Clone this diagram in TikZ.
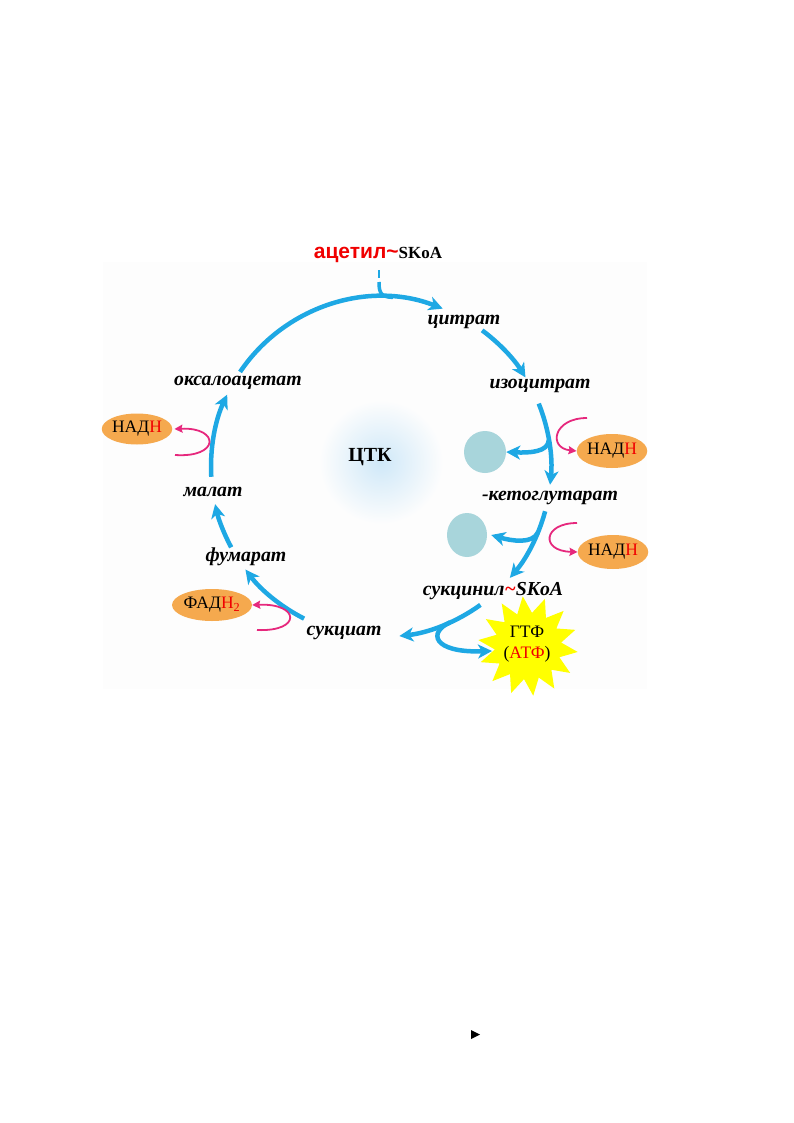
\documentclass[tikz,border=0pt]{standalone}
\usepackage{fontspec}
\setmainfont{Liberation Serif}
\newfontfamily\arsf{Liberation Sans}
\usetikzlibrary{arrows.meta,shapes.geometric,calc}
\definecolor{cycblue}{HTML}{1EA8E4}
\definecolor{pinkc}{HTML}{E6287D}
\definecolor{orangec}{HTML}{F5A94E}
\definecolor{tealc}{HTML}{A8D5DB}
\definecolor{yelc}{HTML}{FFFF00}
\definecolor{glowc}{HTML}{CFE8F8}
\definecolor{panelc}{HTML}{FDFDFD}
\definecolor{redc}{HTML}{F00000}
\begin{document}
\begin{tikzpicture}[x=1pt,y=1pt,
  cycarrow/.style={draw=cycblue, line width=4.5pt, -{Stealth[length=14pt,width=14pt,inset=4pt]}},
  stemline/.style={draw=cycblue, line width=3.5pt},
  pinkarrow/.style={draw=pinkc, line width=1.8pt, -{Stealth[length=8pt,width=8pt,inset=1pt]}},
  lab/.style={font=\fontsize{19.8}{22}\selectfont\bfseries\itshape, inner sep=0pt},
  cofactor/.style={ellipse, fill=orangec, inner sep=0pt, font=\fontsize{17.5}{20}\selectfont},
  acceptor/.style={ellipse, fill=tealc, inner sep=0pt}]
\useasboundingbox (0,0) rectangle (793,-1123);
\fill[panelc] (103,-262) rectangle (647,-689);
\shade[inner color=glowc, outer color=panelc] (381,-462) circle (62);

% centre of the cycle
\coordinate (O) at (381,-467);

% labels
\node[inner sep=0pt] (acetyl) at (378,-255) {{\arsf\bfseries\fontsize{21}{24}\selectfont\color{redc}ацетил\textasciitilde}{\bfseries\fontsize{17}{20}\selectfont SKoA}};
\node[lab] (citrate) at (464,-322) {цитрат};
\node[lab] (isocitrate) at (540,-386) {изоцитрат};
\node[lab] (akg) at (550,-498) {-кетоглутарат};
\node[lab] (succoa) at (493,-591) {сукцинил{\color{redc}\textasciitilde}SKoA};
\node[lab] (succinate) at (344,-633) {сукциат};
\node[lab] (fumarate) at (246,-557) {фумарат};
\node[lab] (malate) at (213,-492) {малат};
\node[lab] (oxalo) at (238,-383) {оксалоацетат};
\node[inner sep=0pt, font=\fontsize{20}{22}\selectfont\bfseries] (ctk) at (370,-457) {ЦТК};

% cofactors
\node[cofactor, minimum width=68pt, minimum height=31pt] (nadh0) at (137,-429) {НАД{\color{redc}Н}};
\node[cofactor, minimum width=70pt, minimum height=34pt] (nadh1) at (612,-451) {НАД{\color{redc}Н}};
\node[cofactor, minimum width=68pt, minimum height=34pt] (nadh2) at (613,-552) {НАД{\color{redc}Н}};
\node[cofactor, minimum width=74pt, minimum height=32pt] (fad) at (212,-605) {ФАД{\color{redc}Н\textsubscript{2}}};
\node[acceptor, minimum width=42pt, minimum height=42pt] (t1) at (485,-452) {};
\node[acceptor, minimum width=40pt, minimum height=44pt] (t2) at (467,-535) {};
\node[star, star points=14, star point ratio=1.5, fill=yelc, minimum size=100pt, inner sep=0pt, rotate=6] (gtp) at (528,-646) {};
\node[inner sep=0pt, align=center, font=\fontsize{17.5}{21}\selectfont] (gtptext) at (527,-644) {ГТФ\\({\color{redc}АТФ})};

% arc start points
\coordinate (a1s) at ($(O)+(146:170)$);
\coordinate (a2s) at ($(O)+(53.5:170)$);
\coordinate (a3s) at ($(O)+(21.9:170)$);
\coordinate (a4s) at ($(O)+(-15.1:170)$);
\coordinate (a5s) at ($(O)+(-54.2:170)$);
\coordinate (a6s) at ($(O)+(-116.9:170)$);
\coordinate (a7s) at ($(O)+(-151.8:170)$);
\coordinate (a8s) at ($(O)+(-176.7:170)$);
% branch points
\coordinate (b1) at ($(O)+(9.1:170)$);
\coordinate (b2) at ($(O)+(-22.8:170)$);
\coordinate (b5) at ($(O)+(-66:170)$);
\coordinate (stemtop) at (379,-282);
\coordinate (stemjoin) at ($(O)+(86:170)$);
\coordinate (dot1) at (379,-270);
\coordinate (dot2) at (379,-278);
\coordinate (gtpin) at (492,-651);
\coordinate (p0s) at (175,-455);
\coordinate (p1s) at (587,-418);
\coordinate (p2s) at (577,-523);
\coordinate (p3s) at (257,-630);

% cycle arrows
\draw[cycarrow] (a1s) arc[start angle=146, end angle=68.7, radius=170];
\draw[cycarrow] (a2s) arc[start angle=53.5, end angle=31.8, radius=170];
\draw[cycarrow] (a3s) arc[start angle=21.9, end angle=-6.0, radius=170];
\draw[cycarrow] (a4s) arc[start angle=-15.1, end angle=-40.7, radius=170];
\draw[cycarrow] (a5s) arc[start angle=-54.2, end angle=-83.8, radius=170];
\draw[cycarrow] (a6s) arc[start angle=-116.9, end angle=-142.9, radius=170];
\draw[cycarrow] (a7s) arc[start angle=-151.8, end angle=-167.4, radius=170];
\draw[cycarrow] (a8s) arc[start angle=-176.7, end angle=-205.2, radius=170];

% acetyl entry
\draw[draw=cycblue, line width=2.5pt] (dot1) -- (dot2);
\draw[stemline] (stemtop) .. controls (379,-293) and (381,-297) .. (stemjoin);

% branches
\draw[cycarrow] (b1) .. controls (548,-452) and (530,-453) .. (t1.east);
\draw[cycarrow] (b2) .. controls (532,-544) and (512,-541) .. ([xshift=4pt]t2.east);
\draw[cycarrow] (b5) .. controls (428,-632) and (432,-653) .. (gtpin);

% NADH / FADH2 arrows
\draw[pinkarrow] (p0s) .. controls (220,-458) and (220,-427) .. ([xshift=2pt]nadh0.east);
\draw[pinkarrow] (p1s) .. controls (553,-418) and (548,-448) .. (nadh1.west);
\draw[pinkarrow] (p2s) .. controls (543,-523) and (540,-551) .. (nadh2.west);
\draw[pinkarrow] (p3s) .. controls (302,-632) and (300,-603) .. (fad.east);

% small mark at the bottom
\coordinate (m1) at (471,-1030);
\coordinate (m2) at (480,-1034.5);
\coordinate (m3) at (471,-1039);
\fill[black] (m1) -- (m2) -- (m3) -- cycle;
\end{tikzpicture}
\end{document}
